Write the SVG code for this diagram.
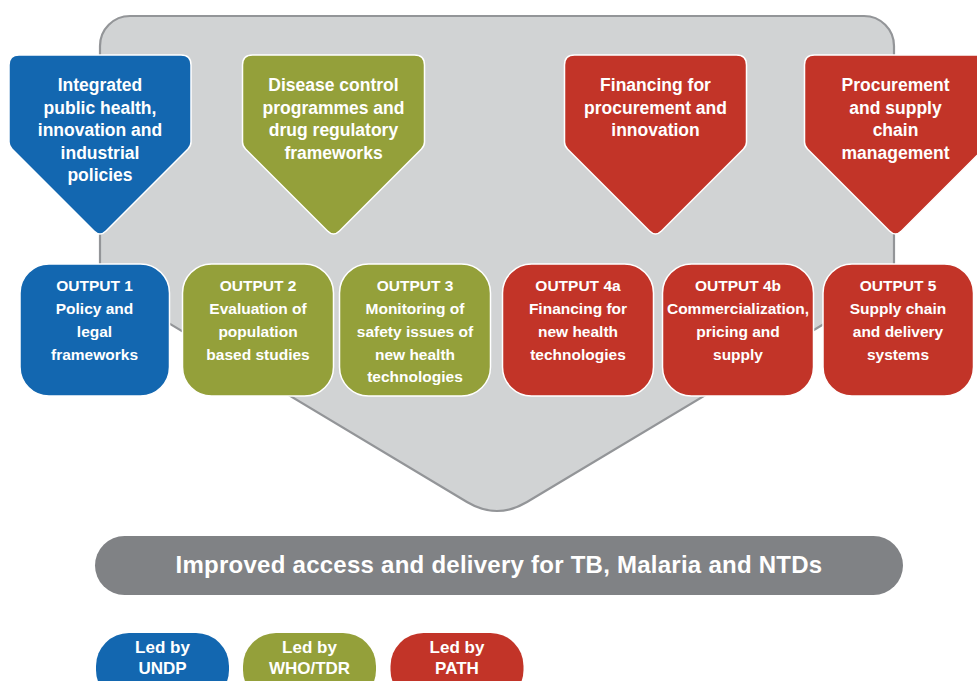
<svg xmlns="http://www.w3.org/2000/svg" width="977" height="681" viewBox="0 0 977 681">
  <style>
    text { font-family: "Liberation Sans", Arial, sans-serif; font-weight: bold; fill: #ffffff; text-anchor: middle; }
    .head { font-size: 17.5px; }
    .out { font-size: 15.5px; }
    .goal { font-size: 24px; letter-spacing: 0.25px; }
    .lead { font-size: 17px; }
    .blue { fill: #1367b0; }
    .green { fill: #94a03a; }
    .red { fill: #c23428; }
    .edge { stroke: #ffffff; stroke-width: 1.5; }
  </style>
  <defs>
    <!-- downward pentagon arrow, centred on x=0 -->
    <path id="arrow" d="M -81,55 H 81 Q 91,55 91,65 V 142 Q 91,146 88,149 L 6,231 Q 0,237 -6,231 L -88,149 Q -91,146 -91,142 V 65 Q -91,55 -81,55 Z"/>
  </defs>

  <!-- grey funnel behind everything -->
  <g id="funnel">
    <path d="M 100,282 V 46 A 30 30 0 0 1 130,16 H 864 A 30 30 0 0 1 894,46 V 282 L 527,502 Q 497,520 467,502 Z" fill="#d1d3d4" stroke="#939598" stroke-width="2.2"/>
  </g>

  <!-- top-level areas -->
  <g id="area-policy">
    <use href="#arrow" x="100" class="blue edge"/>
    <text class="head" x="100" y="91">Integrated</text>
    <text class="head" x="100" y="113.5">public health,</text>
    <text class="head" x="100" y="136">innovation and</text>
    <text class="head" x="100" y="159">industrial</text>
    <text class="head" x="100" y="181">policies</text>
  </g>
  <g id="area-disease">
    <use href="#arrow" x="333.5" class="green edge"/>
    <text class="head" x="333.5" y="91">Disease control</text>
    <text class="head" x="333.5" y="113.5">programmes and</text>
    <text class="head" x="333.5" y="136">drug regulatory</text>
    <text class="head" x="333.5" y="159">frameworks</text>
  </g>
  <g id="area-financing">
    <use href="#arrow" x="655.5" class="red edge"/>
    <text class="head" x="655.5" y="91">Financing for</text>
    <text class="head" x="655.5" y="113.5">procurement and</text>
    <text class="head" x="655.5" y="136">innovation</text>
  </g>
  <g id="area-procurement">
    <use href="#arrow" x="895.5" class="red edge"/>
    <text class="head" x="895.5" y="91">Procurement</text>
    <text class="head" x="895.5" y="113.5">and supply</text>
    <text class="head" x="895.5" y="136">chain</text>
    <text class="head" x="895.5" y="159">management</text>
  </g>

  <!-- outputs -->
  <g id="output-1">
    <rect x="20" y="264" width="149.5" height="132" rx="29" class="blue edge"/>
    <text class="out" x="94.5" y="291">OUTPUT 1</text>
    <text class="out" x="94.5" y="314">Policy and</text>
    <text class="out" x="94.5" y="337">legal</text>
    <text class="out" x="94.5" y="359.5">frameworks</text>
  </g>
  <g id="output-2">
    <rect x="182.5" y="264" width="151" height="132" rx="29" class="green edge"/>
    <text class="out" x="258" y="291">OUTPUT 2</text>
    <text class="out" x="258" y="314">Evaluation of</text>
    <text class="out" x="258" y="337">population</text>
    <text class="out" x="258" y="359.5">based studies</text>
  </g>
  <g id="output-3">
    <rect x="339.5" y="264" width="151" height="132" rx="29" class="green edge"/>
    <text class="out" x="415" y="291">OUTPUT 3</text>
    <text class="out" x="415" y="314">Monitoring of</text>
    <text class="out" x="415" y="337">safety issues of</text>
    <text class="out" x="415" y="359.5">new health</text>
    <text class="out" x="415" y="382">technologies</text>
  </g>
  <g id="output-4a">
    <rect x="502.5" y="264" width="151" height="132" rx="29" class="red edge"/>
    <text class="out" x="578" y="291">OUTPUT 4a</text>
    <text class="out" x="578" y="314">Financing for</text>
    <text class="out" x="578" y="337">new health</text>
    <text class="out" x="578" y="359.5">technologies</text>
  </g>
  <g id="output-4b">
    <rect x="662.5" y="264" width="151" height="132" rx="29" class="red edge"/>
    <text class="out" x="738" y="291">OUTPUT 4b</text>
    <text class="out" x="738" y="314">Commercialization,</text>
    <text class="out" x="738" y="337">pricing and</text>
    <text class="out" x="738" y="359.5">supply</text>
  </g>
  <g id="output-5">
    <rect x="823" y="264" width="150.5" height="132" rx="29" class="red edge"/>
    <text class="out" x="898" y="291">OUTPUT 5</text>
    <text class="out" x="898" y="314">Supply chain</text>
    <text class="out" x="898" y="337">and delivery</text>
    <text class="out" x="898" y="359.5">systems</text>
  </g>

  <!-- overall goal -->
  <g id="goal">
    <rect x="95" y="536" width="808" height="59" rx="29.5" fill="#808285"/>
    <text class="goal" x="499" y="573">Improved access and delivery for TB, Malaria and NTDs</text>
  </g>

  <!-- key -->
  <g id="key-undp">
    <rect x="96" y="633" width="133" height="70" rx="33" class="blue"/>
    <text class="lead" x="162.5" y="653">Led by</text>
    <text class="lead" x="162.5" y="674">UNDP</text>
  </g>
  <g id="key-who">
    <rect x="243" y="633" width="133" height="70" rx="33" class="green"/>
    <text class="lead" x="309.5" y="653">Led by</text>
    <text class="lead" x="309.5" y="674">WHO/TDR</text>
  </g>
  <g id="key-path">
    <rect x="390.5" y="633" width="133" height="70" rx="33" class="red"/>
    <text class="lead" x="457" y="653">Led by</text>
    <text class="lead" x="457" y="674">PATH</text>
  </g>

  <g id="connectors"/>
</svg>
